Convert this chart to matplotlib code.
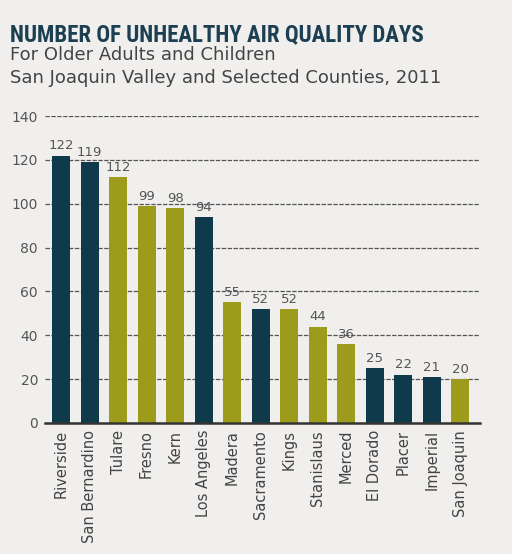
import matplotlib
matplotlib.use("Agg")
import matplotlib.pyplot as plt
from matplotlib import font_manager

# data
counties = ["Riverside", "San Bernardino", "Tulare", "Fresno", "Kern", "Los Angeles",
            "Madera", "Sacramento", "Kings", "Stanislaus", "Merced", "El Dorado",
            "Placer", "Imperial", "San Joaquin"]
days = [122, 119, 112, 99, 98, 94, 55, 52, 52, 44, 36, 25, 22, 21, 20]
in_valley = [False, False, True, True, True, False, True, False, True, True, True,
             False, False, False, True]
yticks = [0, 20, 40, 60, 80, 100, 120, 140]

BG = "#f0efed"
DARK = "#0f3a4b"
OLIVE = "#9d9b1b"
TXT = "#555555"


def pick_font(names):
    for n in names:
        try:
            font_manager.findfont(font_manager.FontProperties(family=n),
                                  fallback_to_default=False)
            return n
        except Exception:
            pass
    return "DejaVu Sans"


title_font = pick_font(["Liberation Sans Narrow", "DejaVu Sans Condensed",
                        "Roboto Condensed", "Open Sans Condensed", "Roboto"])

fig = plt.figure(figsize=(5.12, 5.54), dpi=100, facecolor=BG)
ax = fig.add_axes([0.088, 0.2365, 0.85, 0.554])
ax.set_facecolor(BG)

colors = [OLIVE if v else DARK for v in in_valley]
x = range(len(counties))
ax.bar(x, days, width=0.63, color=colors, zorder=3)
for xi, v in zip(x, days):
    ax.text(xi, v + 1.5, str(v), ha="center", va="bottom", fontsize=9.5,
            color=TXT, zorder=4)

ax.set_xlim(-0.56, 14.7)
ax.set_ylim(0, 140)
ax.set_yticks(yticks)
ax.set_yticklabels([str(t) for t in yticks], fontsize=10, color=TXT)
ax.set_xticks(list(x))
ax.set_xticklabels(counties, rotation=90, fontsize=10.5, color="#444444")
ax.tick_params(axis="both", length=0)
ax.tick_params(axis="y", pad=5)
ax.tick_params(axis="x", pad=5)

for t in yticks[1:]:
    ax.axhline(t, color="#555555", lw=0.9, ls=(0, (3.5, 1.2)), zorder=1)

for s in ["top", "right", "left"]:
    ax.spines[s].set_visible(False)
ax.spines["bottom"].set_color("#333333")
ax.spines["bottom"].set_linewidth(1.8)
ax.spines["bottom"].set_zorder(5)

title = fig.text(0.02, 41 / 554 * -1 + 1, "NUMBER OF UNHEALTHY AIR QUALITY DAYS",
                 family=title_font, fontweight="bold", fontsize=24,
                 color="#1d3f52", va="baseline")
# shrink the title until it spans the same width as the reference (~415 px)
renderer = fig.canvas.get_renderer()
w = title.get_window_extent(renderer).width
if w > 415:
    title.set_fontsize(24 * 415 / w)

fig.text(0.02, 1 - 60 / 554, "For Older Adults and Children", fontsize=13,
         color="#444444", va="baseline")
fig.text(0.02, 1 - 83 / 554, "San Joaquin Valley and Selected Counties, 2011",
         fontsize=13, color="#444444", va="baseline")

fig.savefig("out.png", dpi=100, facecolor=BG)
